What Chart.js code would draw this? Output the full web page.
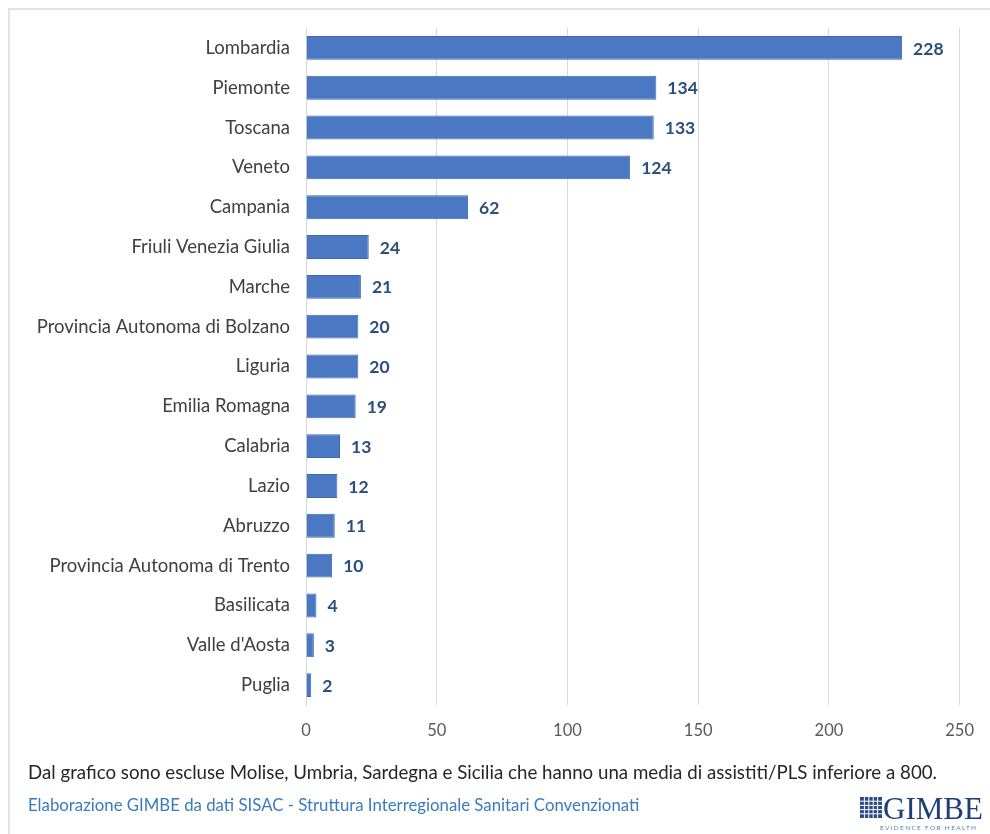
<!DOCTYPE html>
<html>
<head>
<meta charset="utf-8">
<title>Regioni - media assistiti/PLS</title>
<script src="https://cdn.jsdelivr.net/npm/chart.js"></script>
<style>
  html, body { margin: 0; padding: 0; background: #fff; }
  #wrap { width: 990px; height: 834px; position: relative; }
</style>
</head>
<body>
<div id="wrap"><canvas id="myChart" width="990" height="834"></canvas></div>
<script>
    var regions = ['Lombardia', 'Piemonte', 'Toscana', 'Veneto', 'Campania',
        'Friuli Venezia Giulia', 'Marche', 'Provincia Autonoma di Bolzano', 'Liguria',
        'Emilia Romagna', 'Calabria', 'Lazio', 'Abruzzo', 'Provincia Autonoma di Trento',
        'Basilicata', "Valle d'Aosta", 'Puglia'];
    var values = [228, 134, 133, 124, 62, 24, 21, 20, 20, 19, 13, 12, 11, 10, 4, 3, 2];
    var xTicks = [0, 50, 100, 150, 200, 250];

    var footNote = 'Dal grafico sono escluse Molise, Umbria, Sardegna e Sicilia che hanno una media di assistiti/PLS inferiore a 800.';
    var sourceNote = 'Elaborazione GIMBE da dati SISAC - Struttura Interregionale Sanitari Convenzionati';

    var FONT = 'Lato, "Open Sans", sans-serif';

    // value labels at the end of each bar
    var valueLabels = {
        id: 'valueLabels',
        afterDatasetsDraw(chart) {
            var ctx = chart.ctx;
            var meta = chart.getDatasetMeta(0);
            ctx.save();
            ctx.font = 'bold 17.5px ' + FONT;
            ctx.fillStyle = '#2a4f7c';
            ctx.textAlign = 'left';
            ctx.textBaseline = 'middle';
            meta.data.forEach(function (bar, i) {
                ctx.fillText(String(values[i]), bar.x + 11, bar.y + 1);
            });
            ctx.restore();
        }
    };

    // frame, notes and logo
    var extras = {
        id: 'extras',
        beforeDraw(chart) {
            var ctx = chart.ctx;
            ctx.save();
            ctx.fillStyle = '#fff';
            ctx.fillRect(0, 0, chart.width, chart.height);
            ctx.strokeStyle = '#e3e3e3';
            ctx.lineWidth = 2;
            ctx.beginPath();
            ctx.moveTo(9, 834);
            ctx.lineTo(9, 9);
            ctx.lineTo(990, 9);
            ctx.stroke();
            ctx.restore();
        },
        afterDraw(chart) {
            var ctx = chart.ctx;
            ctx.save();
            ctx.textBaseline = 'middle';
            ctx.textAlign = 'left';
            ctx.font = '18.7px ' + FONT;
            ctx.fillStyle = '#262626';
            ctx.fillText(footNote, 28, 773);
            ctx.font = '16.8px ' + FONT;
            ctx.fillStyle = '#3a7bbf';
            ctx.fillText(sourceNote, 28, 806);

            // GIMBE logo
            ctx.fillStyle = '#2c4a86';
            ctx.fillRect(860, 797, 22, 21);
            ctx.strokeStyle = '#fff';
            ctx.lineWidth = 1;
            for (var k = 1; k < 5; k++) {
                ctx.beginPath();
                ctx.moveTo(860 + k * 4.4, 797); ctx.lineTo(860 + k * 4.4, 818);
                ctx.moveTo(860, 797 + k * 4.2); ctx.lineTo(882, 797 + k * 4.2);
                ctx.stroke();
            }
            ctx.font = '31px "Liberation Serif", "DejaVu Serif", serif';
            ctx.fillStyle = '#1f3f78';
            ctx.textBaseline = 'alphabetic';
            ctx.fillText('GIMBE', 883, 819);
            ctx.font = '6.5px ' + FONT;
            ctx.fillStyle = '#5a7fb0';
            ctx.letterSpacing = '1.3px';
            ctx.fillText('EVIDENCE FOR HEALTH', 880, 830);
            ctx.restore();
        }
    };

    var ctx = document.getElementById('myChart').getContext('2d');
    var myChart = new Chart(ctx, {
        type: 'bar',
        data: {
            labels: regions,
            datasets: [{
                data: values,
                backgroundColor: '#4a78c2',
                borderColor: '#3f69ad',
                borderWidth: 1,
                categoryPercentage: 1,
                barPercentage: 0.6
            }]
        },
        options: {
            indexAxis: 'y',
            responsive: false,
            animation: false,
            layout: { padding: { top: 28, right: 28, left: 0, bottom: 0 } },
            plugins: {
                legend: { display: false },
                tooltip: { enabled: false }
            },
            scales: {
                x: {
                    min: 0,
                    max: 250,
                    afterBuildTicks(scale) {
                        scale.ticks = xTicks.map(function (v) { return { value: v }; });
                    },
                    afterFit(scale) { scale.height = 129; },
                    grid: { color: '#d9d9d9', drawTicks: false, lineWidth: 1 },
                    border: { display: false },
                    ticks: {
                        color: '#595959',
                        font: { family: FONT, size: 16.5 },
                        padding: 16
                    }
                },
                y: {
                    afterFit(scale) { scale.width = 306; },
                    grid: { display: false, drawTicks: false },
                    border: { display: true, color: '#d9d9d9' },
                    ticks: {
                        color: '#404040',
                        font: { family: FONT, size: 18.5 },
                        padding: 16,
                        autoSkip: false
                    }
                }
            }
        },
        plugins: [extras, valueLabels]
    });
</script>
</body>
</html>
